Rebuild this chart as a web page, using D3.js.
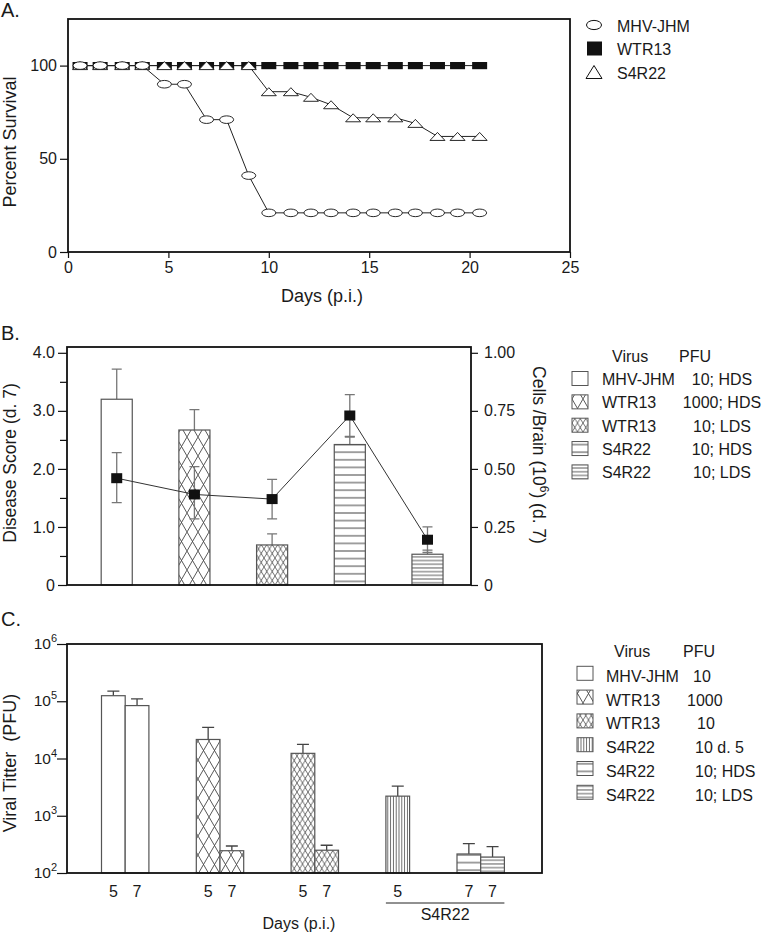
<!DOCTYPE html>
<html><head><meta charset="utf-8">
<script src="https://cdn.jsdelivr.net/npm/d3@7"></script>
<style>
body{margin:0;background:#fff;}
svg{display:block;font-family:"Liberation Sans",Arial,Helvetica,sans-serif;}
text{fill:#1a1a1a;}
</style></head><body>
<svg id="c" width="762" height="934"></svg>
<script>
// ---------- Panel A data ----------
const daysA = [0.6,1.6,2.7,3.7,4.8,5.8,6.9,7.9,9.0,10.0,11.1,12.1,13.1,14.2,15.2,16.3,17.3,18.4,19.4,20.5];
const survMHV = [100,100,100,100,90,90,71,71,41,21,21,21,21,21,21,21,21,21,21,21];
const survWTR13 = [100,100,100,100,100,100,100,100,100,100,100,100,100,100,100,100,100,100,100,100];
const survS4R22 = [100,100,100,100,100,100,100,100,100,86,86,83,79,72,72,72,69,62,62,62];
const xTicksA = [0,5,10,15,20,25];
const yTicksA = [0,50,100];
const seriesA = ["MHV-JHM","WTR13","S4R22"];

// ---------- Panel B data ----------
const virusB = ["MHV-JHM","WTR13","WTR13","S4R22","S4R22"];
const pfuB = ["10; HDS","1000; HDS","10; LDS","10; HDS","10; LDS"];
const scoreB = [3.2,2.67,0.69,2.42,0.53];
const scoreHiB = [3.72,3.02,0.88,2.55,0.6];
const cellsB = [0.46,0.39,0.37,0.73,0.195];
const cellsHiB = [0.57,0.51,0.455,0.82,0.25];
const cellsLoB = [0.355,0.285,0.285,0.64,0.14];
const yTicksBL = [0,1,2,3,4];
const yMinorBL = [0.5,1.5,2.5,3.5];
const yTicksBR = [0,0.25,0.5,0.75,1.0];

// ---------- Panel C data ----------
const slotsC = ["MHV-JHM 5","MHV-JHM 7","gap1","gap2","WTR13-1000 5","WTR13-1000 7","gap3","gap4",
  "WTR13-10 5","WTR13-10 7","gap5","gap6","S4R22 5","gap7","gap8","S4R22-HDS 7","S4R22-LDS 7"];
const barKeysC = ["MHV-JHM 5","MHV-JHM 7","WTR13-1000 5","WTR13-1000 7","WTR13-10 5","WTR13-10 7","S4R22 5","S4R22-HDS 7","S4R22-LDS 7"];
const barSeriesC = [0,0,1,1,2,2,3,4,5];
const barDayC = ["5","7","5","7","5","7","5","7","7"];
const titerC = [125000,84000,21500,245,12300,250,2200,215,190];
const titerHiC = [150000,110000,35000,296,17600,305,3300,325,288];
const virusC = ["MHV-JHM","WTR13","WTR13","S4R22","S4R22","S4R22"];
const pfuC = ["10","1000","10","10 d. 5","10; HDS","10; LDS"];
const yTicksC = [2,3,4,5,6];

// ---------- styles / layout ----------
const svg = d3.select("#c");
const defs = svg.append("defs");
const hatch = "#444";
function pat(id, w, h, fn){
  const p = defs.append("pattern").attr("id",id).attr("patternUnits","userSpaceOnUse")
    .attr("width",w).attr("height",h);
  p.append("rect").attr("width",w).attr("height",h).attr("fill","#fff");
  fn(p,w,h);
}
pat("xbig",11,19,(p,w,h)=>p.append("path").attr("d",`M0,0L${w},${h}M${w},0L0,${h}`).attr("stroke",hatch).attr("stroke-width",0.9).attr("fill","none"));
pat("xdense",5.5,9,(p,w,h)=>p.append("path").attr("d",`M0,0L${w},${h}M${w},0L0,${h}`).attr("stroke",hatch).attr("stroke-width",0.8).attr("fill","none"));
pat("hlines",10,7.6,(p,w,h)=>p.append("path").attr("d",`M0,${h/2}H${w}`).attr("stroke",hatch).attr("stroke-width",1));
pat("hdense",10,3.7,(p,w,h)=>p.append("path").attr("d",`M0,${h/2}H${w}`).attr("stroke",hatch).attr("stroke-width",0.9));
pat("vlines",2.8,10,(p,w,h)=>p.append("path").attr("d",`M${w/2},0V${h}`).attr("stroke",hatch).attr("stroke-width",0.8));
const fillsB = ["#fff","url(#xbig)","url(#xdense)","url(#hlines)","url(#hdense)"];
const fillsC = ["#fff","url(#xbig)","url(#xdense)","url(#vlines)","url(#hlines)","url(#hdense)"];
const barStroke = "#555";
const errCol = "#777";

function styleAxis(g, fs){
  g.attr("font-family",null).attr("font-size",fs);
  g.select(".domain").remove();
  g.selectAll(".tick line").attr("stroke","#111").attr("stroke-width",1.2);
  g.selectAll(".tick text").attr("fill","#1a1a1a");
}
function frame(x0,y0,x1,y1){
  svg.append("rect").attr("x",x0).attr("y",y0).attr("width",x1-x0).attr("height",y1-y0)
    .attr("fill","none").attr("stroke","#111").attr("stroke-width",1.8);
}

// ================= Panel A =================
const xA = d3.scaleLinear().domain([0,25]).range([68,570]);
const yA = d3.scaleLinear().domain([0,125]).range([252,19]);
svg.append("text").attr("x",1).attr("y",17).attr("font-size",20).text("A.");
svg.append("g").attr("transform","translate(0,252)")
  .call(d3.axisBottom(xA).tickValues(xTicksA).tickSize(6).tickPadding(4)).call(g=>styleAxis(g,16));
svg.append("g").attr("transform","translate(68,0)")
  .call(d3.axisLeft(yA).tickValues(yTicksA).tickSize(8).tickPadding(3)).call(g=>styleAxis(g,16));
frame(68,19,570,252);
svg.append("text").attr("transform","translate(16,142) rotate(-90)").attr("text-anchor","middle")
  .attr("font-size",18).text("Percent Survival");
svg.append("text").attr("x",322).attr("y",302).attr("text-anchor","middle").attr("font-size",18).text("Days (p.i.)");

const ptsA = s => daysA.map((d,i)=>({d, v:s[i]}));
const lineA = d3.line().x(p=>xA(p.d)).y(p=>yA(p.v));
[survWTR13, survS4R22, survMHV].forEach(s=>{
  svg.append("path").attr("d",lineA(ptsA(s))).attr("fill","none").attr("stroke","#222").attr("stroke-width",1);
});
const gA = svg.append("g");
gA.selectAll("rect.w").data(ptsA(survWTR13)).join("rect")
  .attr("x",p=>xA(p.d)-7.5).attr("y",p=>yA(p.v)-3.6).attr("width",15).attr("height",7.2).attr("fill","#111");
gA.selectAll("path.t").data(ptsA(survS4R22)).join("path")
  .attr("transform",p=>`translate(${xA(p.d)},${yA(p.v)})`)
  .attr("d","M-7.5,4L7.5,4L0,-4Z").attr("fill","#fff").attr("stroke","#111").attr("stroke-width",0.9);
gA.selectAll("ellipse").data(ptsA(survMHV)).join("ellipse")
  .attr("cx",p=>xA(p.d)).attr("cy",p=>yA(p.v)).attr("rx",7).attr("ry",3.8)
  .attr("fill","#fff").attr("stroke","#111").attr("stroke-width",0.9);

// legend A
const legA = svg.append("g");
seriesA.forEach((name,i)=>{
  const cy = 25 + i*23.5;
  if(i===0) legA.append("ellipse").attr("cx",594).attr("cy",cy).attr("rx",7.5).attr("ry",4.6).attr("fill","#fff").attr("stroke","#111");
  if(i===1) legA.append("rect").attr("x",587).attr("y",cy-7).attr("width",15).attr("height",14).attr("fill","#111");
  if(i===2) legA.append("path").attr("transform",`translate(594,${cy})`).attr("d","M-8,6.5L8,6.5L0,-6.5Z").attr("fill","#fff").attr("stroke","#111");
  legA.append("text").attr("x",617).attr("y",cy+6.5).attr("font-size",16).text(name);
});

// ================= Panel B =================
const xB = d3.scaleBand().domain(d3.range(scoreB.length)).range([67,471]).paddingInner(0.6).paddingOuter(0.4).align(0.55);
const yBL = d3.scaleLinear().domain([0,4.1]).range([585,347]);
const yBR = d3.scaleLinear().domain([0,1.025]).range([585,347]);
svg.append("text").attr("x",1).attr("y",340).attr("font-size",20).text("B.");
svg.append("g").attr("transform","translate(67,0)")
  .call(d3.axisLeft(yBL).tickValues(yTicksBL).tickFormat(d=>d===0?"0":d3.format(".1f")(d)).tickSize(9).tickPadding(3)).call(g=>styleAxis(g,16));
svg.append("g").attr("transform","translate(67,0)")
  .call(d3.axisLeft(yBL).tickValues(yMinorBL).tickFormat("").tickSize(7)).call(g=>styleAxis(g,16));
svg.append("g").attr("transform","translate(471,0)")
  .call(d3.axisRight(yBR).tickValues(yTicksBR).tickFormat(d=>d===0?"0":d3.format(".2f")(d)).tickSize(7).tickPadding(6)).call(g=>styleAxis(g,16));

const gB = svg.append("g");
const idxB = d3.range(scoreB.length);
// bar error bars (upper)
idxB.forEach(i=>{
  const cx = xB(i)+xB.bandwidth()/2;
  gB.append("path").attr("d",`M${cx},${yBL(scoreB[i])}V${yBL(scoreHiB[i])}M${cx-5},${yBL(scoreHiB[i])}H${cx+5}`)
    .attr("stroke",errCol).attr("stroke-width",1.3).attr("fill","none");
});
gB.selectAll("rect.bar").data(idxB).join("rect")
  .attr("x",i=>xB(i)).attr("width",xB.bandwidth())
  .attr("y",i=>yBL(scoreB[i])).attr("height",i=>yBL(0)-yBL(scoreB[i]))
  .attr("fill",i=>fillsB[i]).attr("stroke",barStroke).attr("stroke-width",1.2);
frame(67,347,471,585);
// cells line
const lineB = d3.line().x(i=>xB(i)+xB.bandwidth()/2).y(i=>yBR(cellsB[i]));
gB.append("path").attr("d",lineB(idxB)).attr("fill","none").attr("stroke","#333").attr("stroke-width",1);
idxB.forEach(i=>{
  const cx = xB(i)+xB.bandwidth()/2;
  gB.append("path").attr("d",`M${cx},${yBR(cellsLoB[i])}V${yBR(cellsHiB[i])}M${cx-5},${yBR(cellsHiB[i])}H${cx+5}M${cx-5},${yBR(cellsLoB[i])}H${cx+5}`)
    .attr("stroke",errCol).attr("stroke-width",1.3).attr("fill","none");
  gB.append("rect").attr("x",cx-5.5).attr("y",yBR(cellsB[i])-5).attr("width",11).attr("height",10).attr("fill","#111");
});
svg.append("text").attr("transform","translate(16,463) rotate(-90)").attr("text-anchor","middle")
  .attr("font-size",17.5).text("Disease Score (d. 7)");
const rl = svg.append("text").attr("transform","translate(533,455) rotate(90)").attr("text-anchor","middle").attr("font-size",17.5);
rl.append("tspan").text("Cells /Brain (10");
rl.append("tspan").attr("font-size",12).attr("dy",-7).text("6");
rl.append("tspan").attr("dy",7).text(") (d. 7)");

// legend B
const legB = svg.append("g");
legB.append("text").attr("x",612).attr("y",361.5).attr("font-size",16).text("Virus");
legB.append("text").attr("x",679).attr("y",361.5).attr("font-size",16).text("PFU");
virusB.forEach((v,i)=>{
  const cy = 378.5 + i*23.35;
  legB.append("rect").attr("x",572).attr("y",cy-7).attr("width",16).attr("height",14)
    .attr("fill",fillsB[i]).attr("stroke",barStroke).attr("stroke-width",1);
  legB.append("text").attr("x",602).attr("y",cy+6.5).attr("font-size",16).text(v);
  legB.append("text").attr("x",722).attr("y",cy+6.5).attr("text-anchor","middle").attr("font-size",16).text(pfuB[i]);
});

// ================= Panel C =================
const xC = d3.scaleBand().domain(slotsC).range([101.5,504.4]).paddingInner(0).paddingOuter(0);
const yC = d3.scaleLog().domain([1e2,1e6]).range([873,644]);
svg.append("text").attr("x",1).attr("y",626).attr("font-size",20).text("C.");
const axC = svg.append("g").attr("transform","translate(67,0)")
  .call(d3.axisLeft(yC).tickValues(yTicksC.map(e=>Math.pow(10,e))).tickFormat("").tickSize(10)).call(g=>styleAxis(g,16));
yTicksC.forEach(e=>{
  const t = svg.append("text").attr("x",57).attr("y",yC(Math.pow(10,e))+5).attr("text-anchor","end").attr("font-size",15.5);
  t.append("tspan").text("10");
  t.append("tspan").attr("font-size",11).attr("dy",-7).text(String(e));
});
const gC = svg.append("g");
const idxC = d3.range(barKeysC.length);
idxC.forEach(i=>{
  const cx = xC(barKeysC[i])+xC.bandwidth()/2;
  gC.append("path").attr("d",`M${cx},${yC(titerC[i])}V${yC(titerHiC[i])}M${cx-6},${yC(titerHiC[i])}H${cx+6}`)
    .attr("stroke","#444").attr("stroke-width",1.3).attr("fill","none");
});
gC.selectAll("rect.bar").data(idxC).join("rect")
  .attr("x",i=>xC(barKeysC[i])).attr("width",xC.bandwidth())
  .attr("y",i=>yC(titerC[i])).attr("height",i=>yC(1e2)-yC(titerC[i]))
  .attr("fill",i=>fillsC[barSeriesC[i]]).attr("stroke",barStroke).attr("stroke-width",1.2);
frame(67,644,542,873);
idxC.forEach(i=>{
  svg.append("text").attr("x",xC(barKeysC[i])+xC.bandwidth()/2).attr("y",897).attr("text-anchor","middle")
    .attr("font-size",16).text(barDayC[i]);
});
// S4R22 bracket
const s0 = xC("S4R22 5"), s1 = xC("S4R22-LDS 7")+xC.bandwidth();
svg.append("path").attr("d",`M${s0},903H${s1}`).attr("stroke","#222").attr("stroke-width",1);
svg.append("text").attr("x",(s0+s1)/2).attr("y",920).attr("text-anchor","middle").attr("font-size",16).text("S4R22");
svg.append("text").attr("x",299).attr("y",929).attr("text-anchor","middle").attr("font-size",16).text("Days (p.i.)");
svg.append("text").attr("transform","translate(16,763) rotate(-90)").attr("text-anchor","middle")
  .attr("font-size",18).attr("xml:space","preserve").style("white-space","pre").text("Viral Titter  (PFU)");

// legend C
const legC = svg.append("g");
legC.append("text").attr("x",614).attr("y",657).attr("font-size",16).text("Virus");
legC.append("text").attr("x",683).attr("y",657).attr("font-size",16).text("PFU");
const pfuXC = [693,687,697,695,695,695];
virusC.forEach((v,i)=>{
  const cy = 673.3 + i*23.8;
  legC.append("rect").attr("x",577).attr("y",cy-7).attr("width",16).attr("height",14)
    .attr("fill",fillsC[i]).attr("stroke",barStroke).attr("stroke-width",1);
  legC.append("text").attr("x",606).attr("y",cy+8.5).attr("font-size",16).text(v);
  legC.append("text").attr("x",pfuXC[i]).attr("y",cy+8.5).attr("font-size",16).text(pfuC[i]);
});
</script>
</body></html>
